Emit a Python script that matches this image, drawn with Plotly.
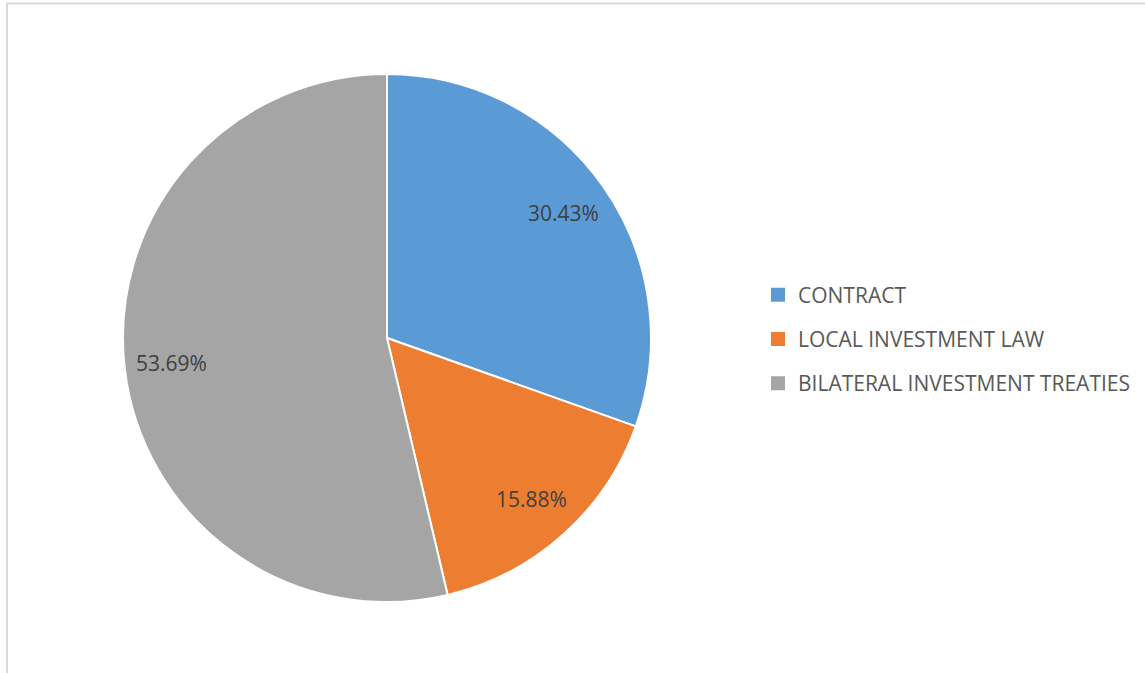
import math
import plotly.graph_objects as go

labels = ["CONTRACT", "LOCAL INVESTMENT LAW", "BILATERAL INVESTMENT TREATIES"]
values = [30.43, 15.88, 53.69]
couleurs = ["#5B9BD5", "#ED7D31", "#A5A5A5"]

W, H = 1145, 673
# centre et rayon du camembert (pixels)
cx, cy, rayon = 387, 338, 264

fig = go.Figure()
fig.add_trace(go.Pie(labels=labels, values=values,
                     sort=False, direction="clockwise", rotation=0,
                     marker=dict(colors=couleurs, line=dict(color="white", width=2)),
                     textinfo="none",
                     hoverinfo="label+percent",
                     domain=dict(x=[(cx - rayon) / W, (cx + rayon) / W],
                                 y=[(H - cy - rayon) / H, (H - cy + rayon) / H]),
                     showlegend=False))

# Etiquettes placees vers l'exterieur des parts, comme dans Excel
total = sum(values)
cumul = 0
annotations = []
for i in range(len(values)):
    angle = 2 * math.pi * (cumul + values[i] / 2) / total
    cumul += values[i]
    px = cx + 0.82 * rayon * math.sin(angle)
    py = cy - 0.82 * rayon * math.cos(angle)
    annotations.append(dict(x=px / W, y=1 - py / H, xref="paper", yref="paper",
                            xanchor="center", yanchor="middle",
                            text="{:.2f}%".format(values[i]), showarrow=False,
                            font=dict(family="Open Sans", size=21, color="#404040")))

# Legende a part pour avoir l'espacement entre les lignes
for i in range(len(labels)):
    fig.add_trace(go.Scatter(x=[None], y=[None], mode="markers", name=labels[i],
                             legendgroup="g" + str(i),
                             marker=dict(symbol="square", size=14, color=couleurs[i])))

fig.update_layout(width=W, height=H,
                  margin=dict(l=0, r=0, t=0, b=0),
                  paper_bgcolor="white", plot_bgcolor="white",
                  xaxis=dict(visible=False), yaxis=dict(visible=False),
                  annotations=annotations,
                  legend=dict(x=758 / W, y=1 - 339 / H, xanchor="left", yanchor="middle",
                              tracegroupgap=14,
                              font=dict(family="Open Sans", size=21, color="#595959")),
                  shapes=[dict(type="rect", xref="paper", yref="paper",
                               x0=7 / W, x1=1.01, y0=-0.01, y1=1 - 3.5 / H,
                               line=dict(color="#D9D9D9", width=2))])

fig.write_html("out.html", config={"displayModeBar": False},
               post_script="document.body.style.margin = '0';")
